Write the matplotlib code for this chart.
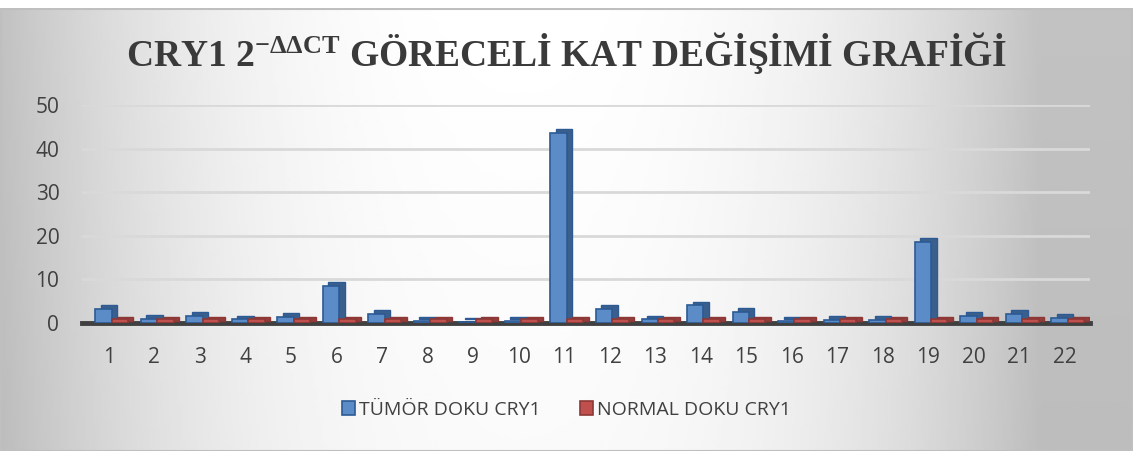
import numpy as np
import matplotlib.pyplot as plt
from matplotlib.patches import Patch

categories = [str(i) for i in range(1, 23)]
tumor = [3.3, 1.0, 1.5, 0.8, 1.3, 8.5, 2.0, 0.5, 0.3, 0.4, 43.5, 3.3,
         0.8, 4.0, 2.5, 0.5, 0.6, 0.7, 18.5, 1.5, 2.0, 1.2]
normal = [1.0, 1.0, 1.0, 1.0, 1.0, 1.0, 1.0, 1.0, 1.0, 1.0, 1.0, 1.0,
          1.0, 1.0, 1.0, 1.0, 1.0, 1.0, 1.0, 1.0, 1.0, 1.0]
yticks = [0, 10, 20, 30, 40, 50]
series_names = ['TÜMÖR DOKU CRY1', 'NORMAL DOKU CRY1']

plt.rcParams['mathtext.fontset'] = 'custom'
plt.rcParams['mathtext.rm'] = 'Liberation Serif:bold'
plt.rcParams['mathtext.it'] = 'Liberation Serif:bold'
plt.rcParams['mathtext.bf'] = 'Liberation Serif:bold'

fig = plt.figure(figsize=(11.33, 4.51), dpi=100)

# gray gradient background
bg = fig.add_axes([0, 0, 1, 0.982], zorder=-10)
gx = np.linspace(-1, 1, 400)
gy = np.linspace(-1, 1, 200)
X, Y = np.meshgrid(gx, gy)
G = 1 - 0.24 * np.clip(np.abs((X + 0.08) / 0.92), 0, 1) ** 2.4 - 0.02 * (Y + 1) / 2
bg.imshow(G, cmap='gray', vmin=0, vmax=1, aspect='auto', extent=[0, 1, 0, 1])
bg.set_xlim(0, 1)
bg.set_ylim(0, 1)
bg.axis('off')
bg.plot([0.001, 0.999, 0.999, 0.001, 0.001], [0.001, 0.001, 0.999, 0.999, 0.001],
        color='#bfbfbf', lw=1.5)

ax = fig.add_axes([0.072, 0.284, 0.89, 0.483])
ax.patch.set_alpha(0)

x = np.arange(1, 23)
w = 0.36
dx, dy = 0.12, 0.9
blue, blue_side, blue_edge = '#5b8cc8', '#3a5f8c', '#2c5a94'
red, red_side, red_edge = '#c0504d', '#943c3a', '#8c3836'

tb = x - 0.12
rb = x + 0.24
# back faces (pseudo depth)
ax.bar(tb + dx, tumor, w, bottom=dy, color=blue_side, edgecolor=blue_edge, lw=1, zorder=2)
ax.bar(tb, tumor, w, color=blue, edgecolor=blue_edge, lw=1.2, zorder=3)
ax.bar(rb + dx, normal, w, bottom=dy * 0.5, color=red_side, edgecolor=red_edge, lw=1, zorder=4)
ax.bar(rb, normal, w, color=red, edgecolor=red_edge, lw=1.2, zorder=5)

ax.set_xlim(0.4, 22.55)
ax.set_ylim(0, 50)
ax.set_yticks(yticks)
ax.set_xticks(x)
ax.set_xticklabels(categories)
ax.grid(axis='y', color='#d9d9d9', lw=2, zorder=0)
ax.set_axisbelow(True)
for s in ['top', 'right', 'left']:
    ax.spines[s].set_visible(False)
ax.spines['bottom'].set_color('#404040')
ax.spines['bottom'].set_linewidth(3.5)
ax.tick_params(length=0, labelsize=15, labelcolor='#404040')
ax.tick_params(axis='x', pad=17)
ax.tick_params(axis='y', pad=16)
for lab in ax.get_xticklabels() + ax.get_yticklabels():
    lab.set_fontfamily('Open Sans')

fig.text(0.5, 0.882, r'CRY1 2$^{\mathrm{-ΔΔCT}}$ GÖRECELİ KAT DEĞİŞİMİ GRAFİĞİ',
         ha='center', va='center', fontsize=27, fontweight='bold',
         family='Liberation Serif', color='#3a3a3a')

handles = [Patch(facecolor=blue, edgecolor=blue_edge, lw=1.2),
           Patch(facecolor=red, edgecolor=red_edge, lw=1.2)]
fig.legend(handles, series_names, loc='center', bbox_to_anchor=(0.5, 0.092),
           ncol=2, frameon=False, handlelength=0.7, handleheight=0.7,
           handletextpad=0.2, columnspacing=2.0,
           prop={'family': 'Open Sans', 'size': 14}, labelcolor='#404040')

fig.savefig('out.png', dpi=100)
